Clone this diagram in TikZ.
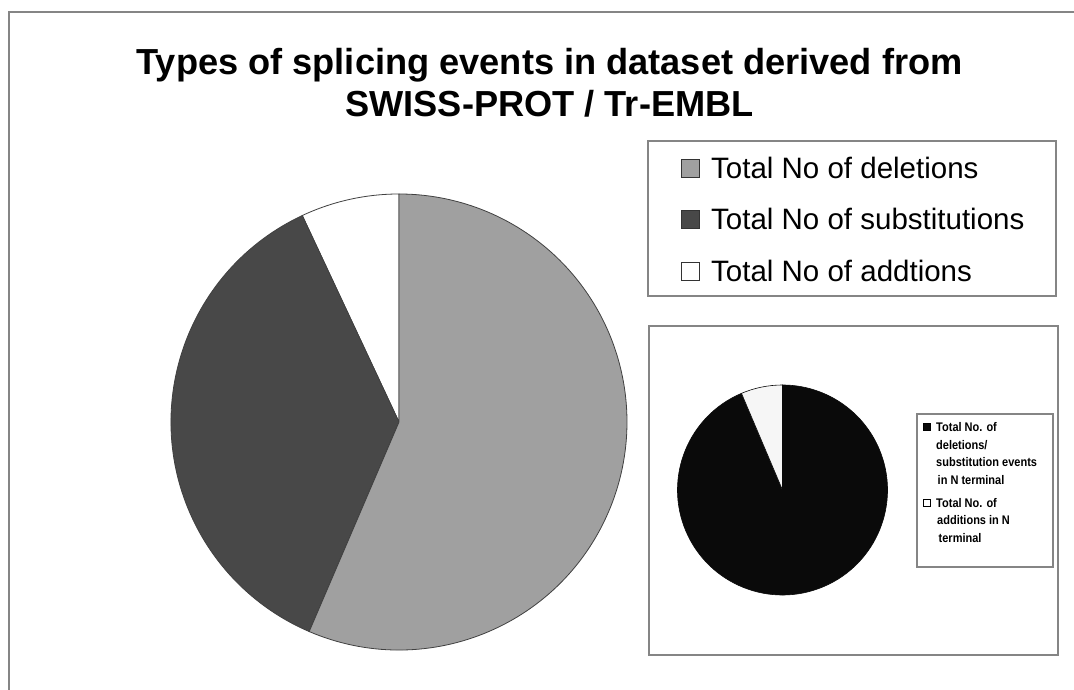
\documentclass[tikz,border=0pt]{standalone}
\usepackage{fontspec}
\setmainfont{Liberation Sans}
\newfontfamily\narrowfont[FakeStretch=0.88]{Liberation Sans}
\definecolor{delgray}{HTML}{A0A0A0}
\definecolor{subgray}{HTML}{484848}
\definecolor{framegray}{HTML}{858585}
\definecolor{nblack}{HTML}{0A0A0A}
\definecolor{nwhite}{HTML}{F6F6F6}
\tikzset{
  frameline/.style={draw=framegray, line width=2pt},
  slice/.style={draw=black!75, line width=0.8pt},
  bigswatch/.style={draw=black!80, line width=0.8pt, minimum size=18pt, inner sep=0pt},
  smallswatch/.style={draw=black, line width=0.6pt, minimum size=7pt, inner sep=0pt},
  biglegtext/.style={anchor=base west, inner sep=0pt, font=\fontsize{29.5}{34}\selectfont},
  smalllegtext/.style={anchor=base west, inner sep=0pt, font=\narrowfont\bfseries\fontsize{12.5}{17.7}\selectfont},
}
\begin{document}
\begin{tikzpicture}[x=1pt,y=1pt]
\useasboundingbox (0,0) rectangle (1074,690);
\fill[white] (0,0) rectangle (1074,690);
% outer frame (cropped at right and bottom)
\coordinate (ftl) at (9,678);
\coordinate (fbl) at (9,0);
\coordinate (ftr) at (1074,678);
\draw[frameline] (fbl) -- (ftl) -- (ftr);
% title
\node[anchor=base, inner sep=0pt, font=\bfseries\fontsize{36.2}{42}\selectfont] (title1) at (549.5,615) {Types of splicing events in dataset derived from};
\node[anchor=base, inner sep=0pt, font=\bfseries\fontsize{36.2}{42}\selectfont] (title2) at (549.5,573) {SWISS-PROT / Tr-EMBL};
% main pie
\coordinate (c1) at (399,268);
\filldraw[slice, fill=white] (c1) -- ++(90:228) arc[start angle=90, end angle=115.1, radius=228] -- cycle;
\filldraw[slice, fill=subgray] (c1) -- ++(115.1:228) arc[start angle=115.1, end angle=246.8, radius=228] -- cycle;
\filldraw[slice, fill=delgray] (c1) -- ++(246.8:228) arc[start angle=246.8, end angle=450, radius=228] -- cycle;
% big legend
\node[frameline, fill=white, minimum width=408pt, minimum height=155pt, inner sep=0pt] (leg1) at (852,471.5) {};
\node[bigswatch, fill=delgray] (sw1) at (690,522) {};
\node[bigswatch, fill=subgray] (sw2) at (690,470.5) {};
\node[bigswatch, fill=white] (sw3) at (690,419) {};
\node[biglegtext] (lt1) at (711,511.5) {Total No of deletions};
\node[biglegtext] (lt2) at (711,460) {Total No of substitutions};
\node[biglegtext] (lt3) at (711,408.5) {Total No of addtions};
% inset box
\node[frameline, fill=white, minimum width=409pt, minimum height=329pt, inner sep=0pt] (inset) at (853.5,199.5) {};
\coordinate (c2) at (782.5,200);
\filldraw[draw=nblack, line width=0.6pt, fill=nblack] (c2) -- ++(113:105) arc[start angle=113, end angle=450, radius=105] -- cycle;
\filldraw[draw=nblack, line width=0.6pt, fill=nwhite] (c2) -- ++(90:105) arc[start angle=90, end angle=113, radius=105] -- cycle;
% small legend
\node[draw=framegray, line width=1.5pt, fill=white, minimum width=136pt, minimum height=153pt, inner sep=0pt] (leg2) at (985,199.5) {};
\node[smallswatch, fill=nblack] (ss1) at (927,263) {};
\node[smallswatch, fill=white] (ss2) at (927,187) {};
\node[smalllegtext] (st1a) at (936,258.5) {Total No. of};
\node[smalllegtext] (st1b) at (936,240.5) {deletions/};
\node[smalllegtext] (st1c) at (936,223.5) {substitution events};
\node[smalllegtext] (st1d) at (937.5,205.5) {in N terminal};
\node[smalllegtext] (st2a) at (936,182.5) {Total No. of};
\node[smalllegtext] (st2b) at (937,165.5) {additions in N};
\node[smalllegtext] (st2c) at (938.5,147.5) {terminal};
\end{tikzpicture}
\end{document}
